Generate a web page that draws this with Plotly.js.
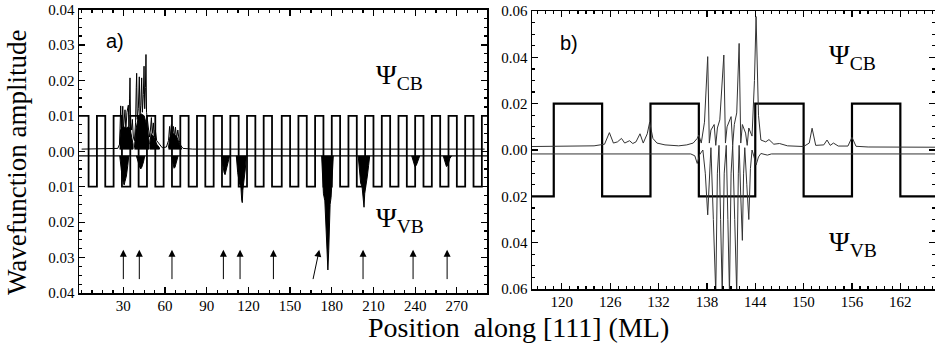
<!DOCTYPE html>
<html><head><meta charset="utf-8">
<script src="https://cdn.plot.ly/plotly-3.0.1.min.js"></script>
<style>html,body{margin:0;padding:0;background:#fff}#chart{width:935px;height:349px}</style>
</head><body><div id="chart"></div>
<script>
// ---------------- data ----------------
const aXTicks = [30, 60, 90, 120, 150, 180, 210, 240, 270];
const aYTicks = [-0.04, -0.03, -0.02, -0.01, 0, 0.01, 0.02, 0.03, 0.04];
const aYTickText = ['0.04', '0.03', '0.02', '0.01', '0.00', '0.01', '0.02', '0.03', '0.04'];
const bXTicks = [120, 126, 132, 138, 144, 150, 156, 162];
const bYTicks = [-0.06, -0.04, -0.02, 0, 0.02, 0.04, 0.06];
const bYTickText = ['0.06', '0.04', '0.02', '0.00', '0.02', '0.04', '0.06'];

// superlattice profile (square wave): level and switching positions (ML)
const aWellLevel = 0.01;
const aWellEdges = [5, 11, 17, 23, 29, 35, 41, 47, 53, 59, 65, 71, 77, 83, 89, 95, 101, 107, 113, 119, 125, 131, 137,
  144, 150, 156, 162, 168, 174, 180, 186, 192, 198, 204, 210, 216, 222, 228, 234, 240, 246, 252, 258, 264, 270, 276, 282, 288];
const bWellLevel = 0.02;
const bWellEdges = [119, 125, 131, 137, 144, 150, 156, 162];

// panel a: conduction-band wavefunction (line)
const aCbX = [0, 20, 26, 27.3, 27.8, 28.1, 28.5, 29.2, 29.6, 30.0, 30.6, 31.2, 31.8, 32.6, 33.6, 34.0, 34.5, 34.8, 35.2, 36.0, 36.5, 37.2, 38.0, 38.8, 39.3, 39.6, 40.0, 40.8, 41.5, 42.0, 42.6, 43.2, 43.7, 44.4, 44.9, 45.4, 45.9, 46.3, 46.7, 47.3, 48.0, 48.8, 49.5, 50.2, 50.8, 51.6, 52.2, 53.0, 54.0, 55.0, 56.5, 58, 61, 62.5, 63.3, 63.8, 64.6, 65.2, 66.0, 66.8, 67.5, 68.3, 69.2, 70.2, 71.5, 73, 80, 290];
const aCbY = [0.0006, 0.0006, 0.0008, 0.002, 0.009, 0.0128, 0.005, 0.011, 0.0127, 0.006, 0.010, 0.0117, 0.006, 0.011, 0.013, 0.007, 0.015, 0.0207, 0.008, 0.006, 0.009, 0.004, 0.003, 0.008, 0.018, 0.022, 0.009, 0.012, 0.021, 0.010, 0.013, 0.0207, 0.011, 0.016, 0.024, 0.012, 0.018, 0.0273, 0.011, 0.009, 0.006, 0.004, 0.006, 0.0095, 0.005, 0.008, 0.004, 0.006, 0.003, 0.0025, 0.0015, 0.001, 0.0012, 0.003, 0.007, 0.004, 0.0075, 0.004, 0.007, 0.004, 0.0068, 0.0035, 0.006, 0.003, 0.0015, 0.0008, 0.0006, 0.0006];
// panel a: dense (filled) part of the CB wavefunction, outlines separated by null
const aCbFillX = [27.3, 28, 30, 32, 34, 35.5, 37, 37, 27.3, null, 38, 39, 41, 43, 45, 47, 48.5, 48.5, 38, null, 49, 50, 52, 54, 56, 56, 49, null, 62.5, 63.5, 66, 68.5, 70.5, 72, 72, 62.5];
const aCbFillY = [0.002, 0.006, 0.007, 0.0065, 0.007, 0.005, 0.002, 0.0006, 0.0006, null, 0.001, 0.006, 0.010, 0.0105, 0.010, 0.007, 0.003, 0.0006, 0.0006, null, 0.002, 0.005, 0.004, 0.002, 0.001, 0.0006, 0.0006, null, 0.001, 0.004, 0.005, 0.004, 0.002, 0.001, 0.0006, 0.0006];
// panel a: valence-band wavefunction baseline and localized (filled) lobes
const aVbBase = -0.0013;
const aVbX = [27.4, 28.2, 29.2, 30.0, 30.6, 31.2, 32.2, 33.2, 33.9, null,
  39.4, 40.5, 41.8, 42.5, 43.3, 44.5, 45.4, null,
  64.5, 65.5, 66.5, 67.2, 68.3, 69.4, null,
  100.5, 101.5, 102.5, 103.2, 104.2, 105.5, 106.5, null,
  111.3, 112.3, 113.5, 114.6, 115.2, 115.6, 116, 117, 117.8, 118.5, null,
  172.7, 173.2, 174, 175, 175.8, 176.5, 177.2, 177.8, 178.3, 178.8, 179.5, 180.3, 181.1, null,
  199, 199.8, 200.8, 201.8, 202.6, 203.2, 203.7, 204.6, 205.6, 206.5, 207.3, null,
  237.5, 238.5, 239.8, 240.8, 242.3, 243.3, null,
  260.2, 261.3, 262.5, 263.5, 265, 266.3];
const aVbY = [-0.0013, -0.005, -0.0075, -0.0088, -0.0095, -0.0085, -0.007, -0.004, -0.0013, null,
  -0.0013, -0.003, -0.0045, -0.005, -0.0045, -0.003, -0.0013, null,
  -0.0013, -0.003, -0.0048, -0.0045, -0.003, -0.0013, null,
  -0.0013, -0.004, -0.006, -0.0066, -0.005, -0.003, -0.0013, null,
  -0.0013, -0.006, -0.009, -0.010, -0.0138, -0.0145, -0.011, -0.008, -0.005, -0.0013, null,
  -0.0013, -0.007, -0.012, -0.014, -0.020, -0.026, -0.0335, -0.028, -0.020, -0.015, -0.013, -0.008, -0.0013, null,
  -0.0013, -0.005, -0.009, -0.010, -0.013, -0.0158, -0.012, -0.010, -0.007, -0.004, -0.0013, null,
  -0.0013, -0.003, -0.0043, -0.004, -0.002, -0.0013, null,
  -0.0013, -0.003, -0.0043, -0.004, -0.002, -0.0013];
// panel a arrows: head and tail positions (ML, amplitude)
const aArrowHeadX = [30, 41.5, 65, 102, 114, 138, 171, 202.5, 238.5, 263];
const aArrowTailX = [30, 41.5, 65, 102, 114, 138, 166.3, 202.5, 238.5, 263];
const aArrowHeadY = -0.0278;
const aArrowTailY = -0.0365;

// panel b: CB and VB wavefunctions
const bCbX = [116.3, 120, 124, 125.3, 125.9, 126.4, 126.9, 127.4, 127.8, 128.4, 128.8, 129.2, 129.7, 130.1, 130.6, 130.9, 131.3, 131.8, 132.8, 134.5, 135.5, 136.3, 136.8, 137.0, 137.3, 137.7, 138.1, 138.3, 138.5, 138.9, 139.1, 139.3, 139.6, 140.1, 140.3, 140.5, 141.0, 141.2, 141.4, 141.7, 142.0, 142.2, 142.4, 142.8, 143.0, 143.2, 143.6, 143.9, 144.1, 144.4, 144.7, 145.3, 145.7, 146.3, 147, 148, 150, 150.7, 151.05, 151.5, 152.5, 152.9, 153.3, 153.7, 154.3, 155.5, 156, 156.5, 158, 166.3];
const bCbY = [0.0015, 0.0015, 0.0018, 0.0025, 0.0075, 0.003, 0.0035, 0.005, 0.003, 0.004, 0.0028, 0.0035, 0.007, 0.003, 0.007, 0.012, 0.005, 0.003, 0.0022, 0.0018, 0.0022, 0.003, 0.005, 0.0065, 0.003, 0.012, 0.0403, 0.003, 0.0086, 0.011, 0.002, 0.0095, 0.013, 0.041, 0.003, 0.010, 0.0144, 0.002, 0.011, 0.016, 0.046, 0.003, 0.011, 0.0073, 0.002, 0.0095, 0.006, 0.030, 0.0576, 0.015, 0.0043, 0.0035, 0.0045, 0.0025, 0.0028, 0.0018, 0.0015, 0.003, 0.0094, 0.002, 0.0022, 0.0043, 0.002, 0.003, 0.0017, 0.0017, 0.0055, 0.0016, 0.0013, 0.0012];
const bVbX = [116.3, 136, 136.5, 136.8, 137.1, 137.5, 137.8, 138.1, 138.4, 138.5, 138.8, 139.1, 139.3, 139.5, 139.7, 139.9, 140.15, 140.4, 140.6, 140.8, 141.0, 141.2, 141.45, 141.7, 141.9, 142.0, 142.2, 142.4, 142.55, 142.7, 142.95, 143.2, 143.4, 143.6, 143.85, 144.1, 144.4, 144.7, 145.5, 146, 166.3];
const bVbY = [-0.0017, -0.0017, -0.0025, -0.0058, -0.002, 0.0, -0.010, -0.028, -0.006, 0.001, -0.030, -0.062, -0.010, 0.002, -0.030, -0.062, -0.010, 0.002, -0.030, -0.062, -0.010, 0.002, -0.030, -0.062, -0.010, 0.002, -0.020, -0.039, -0.010, 0.001, -0.015, -0.030, -0.008, 0.0, -0.003, -0.0065, -0.003, -0.0015, -0.0022, -0.0017, -0.0017];

// ---------------- build ----------------
const aRange = [-1.9, 291.7];
const bRange = [116.3, 166.3];
function steps(edges, level, x0, x1, startHigh) {
  const xs = [x0], ys = [startHigh ? level : -level];
  let s = startHigh;
  edges.forEach(e => { xs.push(e, e); ys.push(s ? level : -level, s ? -level : level); s = !s; });
  xs.push(x1); ys.push(s ? level : -level);
  return {x: xs, y: ys};
}
const aW = steps(aWellEdges, aWellLevel, aRange[0], aRange[1], true);
const bW = steps(bWellEdges, bWellLevel, bRange[0], bRange[1], false);

const traces = [
  {x: aW.x, y: aW.y, xaxis: 'x', yaxis: 'y', mode: 'lines', line: {color: '#000', width: 1.8}},
  {x: aRange, y: [aVbBase, aVbBase], xaxis: 'x', yaxis: 'y', mode: 'lines', line: {color: '#000', width: 1.2}},
  {x: aCbFillX, y: aCbFillY, xaxis: 'x', yaxis: 'y', mode: 'lines', fill: 'toself', fillcolor: '#000', line: {color: '#000', width: 1}},
  {x: aCbX, y: aCbY, xaxis: 'x', yaxis: 'y', mode: 'lines', line: {color: '#000', width: 1}},
  {x: aVbX, y: aVbY, xaxis: 'x', yaxis: 'y', mode: 'lines', fill: 'toself', fillcolor: '#000', line: {color: '#000', width: 1}},
  {x: bW.x, y: bW.y, xaxis: 'x2', yaxis: 'y2', mode: 'lines', line: {color: '#000', width: 2.2}},
  {x: bCbX, y: bCbY, xaxis: 'x2', yaxis: 'y2', mode: 'lines', line: {color: '#333', width: 1}},
  {x: bVbX, y: bVbY, xaxis: 'x2', yaxis: 'y2', mode: 'lines', line: {color: '#333', width: 1}}
];

const W = 935, H = 349;
const px = v => v / W, py = v => (H - v) / H;
const serif = '"Liberation Serif", "Times New Roman", serif';
const tickFont = {family: serif, size: 15, color: '#000'};
const axBase = {showline: true, linecolor: '#000', linewidth: 1.5, mirror: 'ticks', ticks: 'inside', ticklen: 6, tickwidth: 1.2, tickcolor: '#000', showgrid: false, zeroline: false, tickfont: tickFont, fixedrange: true};

const annotations = [
  {text: 'a)', x: px(104), y: py(41), xref: 'paper', yref: 'paper', xanchor: 'left', yanchor: 'middle', showarrow: false, font: {family: 'Liberation Sans, Arial', size: 20, color: '#000'}},
  {text: 'b)', x: px(558), y: py(43), xref: 'paper', yref: 'paper', xanchor: 'left', yanchor: 'middle', showarrow: false, font: {family: 'Liberation Sans, Arial', size: 20, color: '#000'}},
  {text: 'Ψ<sub>CB</sub>', x: px(374), y: py(76), xref: 'paper', yref: 'paper', xanchor: 'left', yanchor: 'middle', showarrow: false, font: {family: serif, size: 28, color: '#000'}},
  {text: 'Ψ<sub>VB</sub>', x: px(374), y: py(219), xref: 'paper', yref: 'paper', xanchor: 'left', yanchor: 'middle', showarrow: false, font: {family: serif, size: 28, color: '#000'}},
  {text: 'Ψ<sub>CB</sub>', x: px(827), y: py(56), xref: 'paper', yref: 'paper', xanchor: 'left', yanchor: 'middle', showarrow: false, font: {family: serif, size: 28, color: '#000'}},
  {text: 'Ψ<sub>VB</sub>', x: px(827), y: py(244), xref: 'paper', yref: 'paper', xanchor: 'left', yanchor: 'middle', showarrow: false, font: {family: serif, size: 28, color: '#000'}},
  {text: 'Wavefunction amplitude', x: px(17), y: py(162), xref: 'paper', yref: 'paper', xanchor: 'center', yanchor: 'middle', textangle: -90, showarrow: false, font: {family: serif, size: 27, color: '#000'}},
  {text: 'Position&nbsp;&nbsp;along [111] (ML)', x: px(518), y: py(327), xref: 'paper', yref: 'paper', xanchor: 'center', yanchor: 'middle', showarrow: false, font: {family: serif, size: 28, color: '#000'}}
];
aArrowHeadX.forEach((hx, i) => {
  annotations.push({x: hx, y: aArrowHeadY, ax: aArrowTailX[i], ay: aArrowTailY, xref: 'x', yref: 'y', axref: 'x', ayref: 'y', text: '', showarrow: true, arrowhead: 2, arrowsize: 1.4, arrowwidth: 1, arrowcolor: '#000'});
});

const layout = {
  width: W, height: H, margin: {l: 0, r: 0, t: 0, b: 0}, paper_bgcolor: '#fff', plot_bgcolor: '#fff', showlegend: false,
  font: {family: serif, size: 15, color: '#000'},
  xaxis: Object.assign({}, axBase, {domain: [px(79), px(487)], range: aRange, tickmode: 'array', tickvals: aXTicks, ticktext: aXTicks.map(String), anchor: 'y', ticklabelstandoff: -2, minor: {dtick: 7.5, tick0: 0, ticks: 'inside', ticklen: 3, tickcolor: '#000'}}),
  yaxis: Object.assign({}, axBase, {domain: [py(293), py(9.5)], range: [-0.04, 0.04], tickmode: 'array', tickvals: aYTicks, ticktext: aYTickText, anchor: 'x', minor: {dtick: 0.0025, tick0: 0, ticks: 'inside', ticklen: 3, tickcolor: '#000'}}),
  xaxis2: Object.assign({}, axBase, {domain: [px(532), 1], range: bRange, tickmode: 'array', tickvals: bXTicks, ticktext: bXTicks.map(String), anchor: 'y2', ticklabelstandoff: -2, minor: {dtick: 1, tick0: 0, ticks: 'inside', ticklen: 3, tickcolor: '#000'}}),
  yaxis2: Object.assign({}, axBase, {domain: [py(289), py(11)], range: [-0.06, 0.06], tickmode: 'array', tickvals: bYTicks, ticktext: bYTickText, anchor: 'x2', minor: {dtick: 0.005, tick0: 0, ticks: 'inside', ticklen: 3, tickcolor: '#000'}}),
  annotations: annotations
};
Plotly.newPlot('chart', traces, layout, {staticPlot: true});
</script></body></html>
